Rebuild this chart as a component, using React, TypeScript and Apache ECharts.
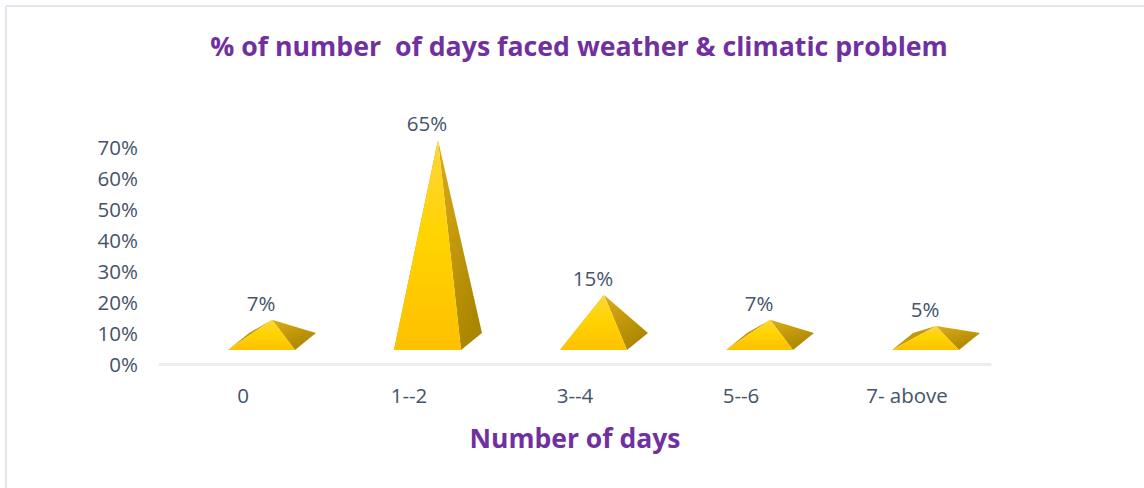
import React, { useEffect, useRef } from "react";
import * as echarts from "echarts";

const categories = ["0", "1--2", "3--4", "5--6", "7- above"];
const values = [7, 65, 15, 7, 5];
const yTicks = 10;
const yMax = 70;
const titleText = "% of number  of days faced weather & climatic problem";
const xName = "Number of days";

const FONT = "'Open Sans', sans-serif";
const TEXT = "#44546A";
const PURPLE = "#7030A0";

function renderPyramid(_params: any, api: any) {
  const idx = api.value(0);
  const val = api.value(1);
  const top = api.coord([idx, val]);
  const base = api.coord([idx, 0]);
  const cx = base[0];
  const axisY = base[1];
  const fl = [cx - 15, axisY - 14];
  const fr = [cx + 52, axisY - 14];
  const br = [cx + 73, axisY - 31];
  const bl = [cx + 6, axisY - 31];
  const apex = [cx + 29, top[1] - 22.5];
  const frontFill = new echarts.graphic.LinearGradient(0, 0, 0, 1, [
    { offset: 0, color: "#FFD53A" },
    { offset: 0.45, color: "#FFD400" },
    { offset: 1, color: "#FFC000" },
  ]);
  const sideFill = new echarts.graphic.LinearGradient(0, 0, 0.6, 1, [
    { offset: 0, color: "#DCAC18" },
    { offset: 1, color: "#AB8600" },
  ]);
  return {
    type: "group",
    children: [
      { type: "polygon", shape: { points: [fl, bl, apex] }, style: { fill: "#C29A10" } },
      { type: "polygon", shape: { points: [fr, br, apex] }, style: { fill: sideFill } },
      { type: "polygon", shape: { points: [fl, fr, apex] }, style: { fill: frontFill } },
      {
        type: "text",
        x: cx + 18,
        y: apex[1] - 17,
        style: {
          text: val + "%",
          fill: TEXT,
          font: "20.5px " + FONT,
          align: "center",
          verticalAlign: "middle",
        },
      },
    ],
  };
}

export default function App() {
  const ref = useRef<HTMLDivElement>(null);
  useEffect(() => {
    const chart = echarts.init(ref.current!, undefined, { renderer: "svg" });
    chart.setOption({
      animation: false,
      backgroundColor: "#FFFFFF",
      title: {
        text: titleText,
        left: 574,
        top: 40,
        textAlign: "center",
        textVerticalAlign: "middle",
        textStyle: { fontFamily: FONT, fontWeight: "bold", fontSize: 26.7, color: PURPLE },
      },
      graphic: [
        { type: "line", shape: { x1: 6, y1: 6, x2: 1144, y2: 6 }, style: { stroke: "#E1E5EF", lineWidth: 2 } },
        { type: "line", shape: { x1: 6, y1: 6, x2: 6, y2: 488 }, style: { stroke: "#E1E5EF", lineWidth: 2 } },
      ],
      grid: { left: 160, right: 154, top: 147, bottom: 124 },
      xAxis: {
        type: "category",
        data: categories,
        name: xName,
        nameLocation: "middle",
        nameGap: 60,
        nameTextStyle: { fontFamily: FONT, fontWeight: "bold", fontSize: 26.5, color: PURPLE },
        axisLine: { lineStyle: { color: "#E9ECF1", width: 3 } },
        axisTick: { show: false },
        axisLabel: { fontFamily: FONT, fontSize: 20.5, color: TEXT, margin: 20 },
      },
      yAxis: {
        type: "value",
        min: 0,
        max: yMax,
        interval: yTicks,
        splitLine: { show: false },
        axisLine: { show: false },
        axisTick: { show: false },
        axisLabel: { fontFamily: FONT, fontSize: 20.5, color: TEXT, margin: 22, formatter: "{value}%" },
      },
      series: [
        {
          type: "custom",
          renderItem: renderPyramid,
          encode: { x: 0, y: 1 },
          data: values.map((v, i) => [i, v]),
          clip: false,
        },
      ],
    });
    return () => chart.dispose();
  }, []);
  return <div ref={ref} style={{ position: "fixed", left: 0, top: 0, width: 1144, height: 488 }} />;
}
